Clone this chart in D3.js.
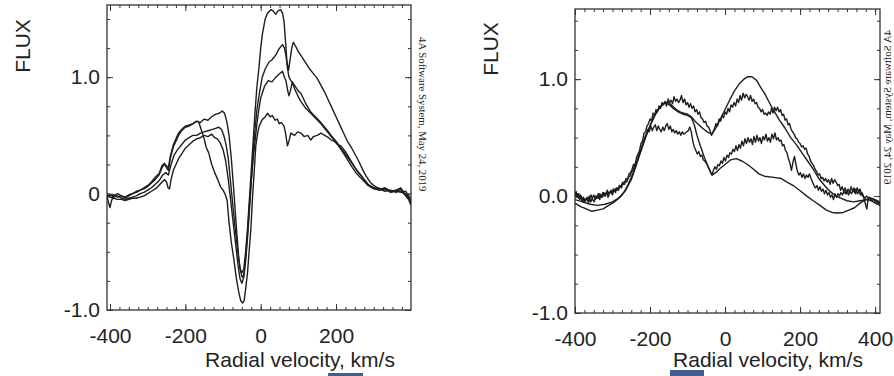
<!DOCTYPE html>
<html>
<head>
<meta charset="utf-8">
<script src="https://cdn.jsdelivr.net/npm/d3@7"></script>
<style>
  body { margin: 0; background: #fff; }
  svg { display: block; }
  text { font-family: "Liberation Sans", Arial, Helvetica, sans-serif; fill: #222; }
</style>
</head>
<body>
<div id="chart"></div>
<script>
// ---- data (velocity km/s, flux) ----
// left panel
const leftA = [[-408,-0.02],[-403,-0.09],[-400,-0.12],[-396,-0.06],[-390,-0.02],[-380,0.0],[-370,-0.02],[-360,-0.03],[-350,-0.01],[-340,0.0],[-330,0.02],[-320,0.03],[-310,0.05],[-300,0.07],[-290,0.1],[-280,0.14],[-270,0.17],[-262,0.24],[-255,0.26],[-250,0.22],[-245,0.2],[-240,0.3],[-232,0.4],[-225,0.45],[-218,0.5],[-210,0.54],[-200,0.57],[-190,0.58],[-180,0.6],[-170,0.62],[-160,0.61],[-150,0.64],[-140,0.63],[-130,0.66],[-120,0.68],[-110,0.69],[-102,0.71],[-96,0.69],[-90,0.62],[-84,0.5],[-78,0.3],[-72,0.05],[-67,-0.18],[-62,-0.4],[-58,-0.56],[-54,-0.66],[-49,-0.72],[-45,-0.7],[-40,-0.55],[-35,-0.35],[-30,-0.1],[-25,0.12],[-20,0.3],[-15,0.45],[-10,0.6],[-5,0.72],[0,0.82],[10,0.92],[20,0.97],[30,0.96],[40,1.0],[50,1.03],[58,1.05],[63,1.0],[67,0.97],[72,0.88],[75,0.84],[80,0.9],[84,0.96],[90,0.9],[100,0.83],[107,0.79],[120,0.73],[133,0.69],[145,0.65],[160,0.6],[175,0.54],[187,0.49],[200,0.44],[213,0.38],[225,0.32],[240,0.24],[255,0.17],[270,0.12],[285,0.07],[300,0.04],[315,0.03],[330,0.04],[345,0.02],[360,0.03],[372,0.05],[380,0.01],[390,-0.02],[399,-0.08]];
const leftB = [[-408,-0.03],[-400,-0.01],[-390,-0.03],[-380,-0.02],[-370,-0.04],[-360,-0.05],[-350,-0.04],[-340,-0.03],[-330,-0.02],[-320,0.0],[-310,0.01],[-300,0.03],[-290,0.05],[-280,0.08],[-270,0.11],[-260,0.16],[-252,0.18],[-245,0.16],[-238,0.25],[-230,0.33],[-220,0.38],[-210,0.42],[-200,0.46],[-190,0.48],[-180,0.5],[-170,0.5],[-160,0.52],[-150,0.53],[-140,0.54],[-130,0.55],[-120,0.56],[-111,0.57],[-104,0.55],[-98,0.5],[-92,0.42],[-86,0.3],[-80,0.1],[-74,-0.1],[-67,-0.32],[-60,-0.52],[-55,-0.64],[-50,-0.68],[-45,-0.65],[-40,-0.5],[-35,-0.3],[-30,-0.05],[-25,0.2],[-20,0.45],[-15,0.7],[-10,0.92],[-4,1.1],[0,1.25],[5,1.38],[12,1.5],[18,1.55],[27,1.58],[33,1.57],[40,1.54],[46,1.57],[53,1.58],[58,1.55],[62,1.48],[66,1.3],[70,1.12],[74,1.06],[78,1.15],[83,1.26],[87,1.3],[92,1.27],[100,1.22],[110,1.17],[120,1.12],[130,1.07],[140,1.03],[150,0.99],[160,0.93],[170,0.87],[180,0.8],[190,0.73],[200,0.66],[210,0.59],[220,0.52],[230,0.45],[240,0.4],[250,0.34],[260,0.28],[270,0.21],[280,0.15],[290,0.1],[300,0.07],[310,0.05],[320,0.04],[330,0.05],[340,0.03],[350,0.02],[360,0.03],[370,0.02],[380,0.0],[390,-0.03],[399,-0.1]];
const leftC = [[-408,-0.01],[-400,-0.03],[-390,-0.04],[-380,-0.05],[-370,-0.05],[-360,-0.06],[-350,-0.05],[-340,-0.04],[-330,-0.04],[-320,-0.03],[-310,-0.02],[-300,0.0],[-290,0.02],[-280,0.04],[-270,0.07],[-262,0.1],[-255,0.12],[-250,0.1],[-246,0.05],[-242,0.04],[-238,0.12],[-232,0.2],[-225,0.25],[-218,0.3],[-210,0.34],[-200,0.39],[-190,0.42],[-180,0.45],[-170,0.47],[-160,0.48],[-150,0.5],[-140,0.49],[-130,0.51],[-122,0.48],[-115,0.47],[-108,0.44],[-100,0.38],[-93,0.28],[-86,0.12],[-80,-0.05],[-73,-0.25],[-67,-0.42],[-60,-0.62],[-55,-0.73],[-50,-0.77],[-45,-0.72],[-40,-0.58],[-35,-0.38],[-30,-0.15],[-25,0.1],[-20,0.35],[-15,0.55],[-10,0.72],[-4,0.85],[4,1.0],[12,1.07],[22,1.13],[30,1.15],[40,1.19],[48,1.24],[53,1.26],[58,1.28],[63,1.25],[67,1.19],[71,1.08],[75,1.0],[80,0.97],[90,0.93],[100,0.88],[107,0.86],[120,0.77],[133,0.7],[145,0.66],[160,0.61],[175,0.55],[187,0.5],[200,0.45],[213,0.39],[225,0.34],[240,0.27],[255,0.2],[270,0.14],[285,0.08],[300,0.05],[315,0.04],[330,0.02],[345,0.03],[360,0.01],[370,0.04],[380,0.0],[390,-0.04],[399,-0.06]];
const leftD = [[-408,-0.03],[-400,-0.02],[-390,-0.01],[-380,-0.03],[-370,-0.02],[-360,-0.04],[-350,-0.02],[-340,0.0],[-330,0.01],[-320,0.03],[-310,0.04],[-300,0.06],[-290,0.09],[-280,0.12],[-270,0.16],[-262,0.22],[-256,0.25],[-250,0.24],[-245,0.22],[-240,0.32],[-232,0.42],[-225,0.47],[-218,0.52],[-210,0.55],[-200,0.58],[-190,0.59],[-180,0.6],[-172,0.62],[-165,0.62],[-158,0.55],[-150,0.47],[-145,0.4],[-138,0.35],[-130,0.25],[-122,0.18],[-114,0.12],[-107,0.06],[-100,0.03],[-95,0.0],[-89,-0.06],[-84,-0.25],[-78,-0.42],[-71,-0.57],[-65,-0.72],[-58,-0.85],[-53,-0.92],[-48,-0.94],[-44,-0.92],[-40,-0.82],[-35,-0.68],[-31,-0.51],[-26,-0.3],[-22,-0.05],[-17,0.2],[-13,0.41],[-8,0.52],[-4,0.58],[4,0.635],[12,0.66],[18,0.69],[25,0.66],[31,0.67],[38,0.63],[44,0.64],[49,0.6],[55,0.61],[62,0.58],[66,0.52],[71,0.41],[75,0.45],[80,0.52],[90,0.5],[98,0.53],[107,0.52],[115,0.49],[125,0.5],[133,0.46],[140,0.49],[150,0.5],[160,0.52],[170,0.5],[180,0.48],[187,0.46],[195,0.45],[205,0.42],[213,0.41],[225,0.36],[240,0.28],[255,0.2],[270,0.14],[284,0.077],[300,0.05],[315,0.03],[330,0.04],[345,0.01],[360,0.02],[373,0.01],[385,0.02],[395,-0.03],[399,-0.05]];

// right panel
const rightA = [[-400,-0.03],[-380,-0.05],[-360,-0.07],[-340,-0.08],[-320,-0.07],[-300,-0.05],[-285,-0.02],[-270,0.03],[-258,0.1],[-245,0.2],[-232,0.32],[-220,0.43],[-208,0.54],[-196,0.63],[-182,0.72],[-170,0.77],[-160,0.8],[-150,0.8],[-140,0.77],[-130,0.74],[-120,0.72],[-110,0.71],[-100,0.7],[-90,0.68],[-80,0.64],[-70,0.61],[-60,0.58],[-48,0.55],[-35,0.53],[-25,0.58],[-12,0.66],[0,0.74],[12,0.82],[25,0.9],[38,0.96],[50,1.0],[60,1.02],[72,1.02],[84,0.99],[95,0.93],[105,0.88],[118,0.8],[130,0.73],[145,0.65],[160,0.58],[175,0.5],[190,0.44],[205,0.37],[220,0.3],[235,0.23],[250,0.15],[265,0.09],[280,0.04],[295,0.0],[310,-0.02],[325,-0.04],[342,-0.05],[360,-0.04],[378,-0.03],[390,-0.04],[400,-0.06],[413,-0.08]];
const rightB = [[-400,-0.06],[-385,-0.09],[-370,-0.11],[-355,-0.13],[-340,-0.12],[-325,-0.11],[-310,-0.08],[-295,-0.05],[-280,-0.01],[-265,0.05],[-250,0.14],[-238,0.25],[-225,0.38],[-212,0.5],[-200,0.6],[-188,0.69],[-176,0.75],[-165,0.79],[-158,0.8],[-148,0.78],[-138,0.75],[-125,0.72],[-112,0.7],[-100,0.69],[-90,0.67],[-82,0.61],[-75,0.52],[-66,0.43],[-55,0.33],[-45,0.25],[-35,0.18],[-25,0.2],[-12,0.24],[0,0.27],[15,0.31],[30,0.32],[45,0.3],[60,0.27],[76,0.23],[90,0.19],[105,0.17],[130,0.16],[150,0.15],[165,0.12],[182,0.09],[200,0.045],[218,0.0],[235,-0.04],[253,-0.08],[270,-0.12],[285,-0.14],[300,-0.145],[315,-0.14],[330,-0.12],[345,-0.1],[360,-0.06],[375,-0.03],[387,-0.015],[400,-0.03],[413,-0.05]];
const rightC = [[-400,0.01],[-397,0.04],[-394,-0.01],[-390,0.02],[-387,-0.03],[-383,0.0],[-379,-0.05],[-376,-0.02],[-372,-0.04],[-368,-0.01],[-364,-0.06],[-361,-0.03],[-357,0.01],[-353,-0.03],[-349,-0.05],[-346,0.0],[-342,-0.02],[-338,0.02],[-334,-0.03],[-331,0.01],[-327,-0.01],[-323,0.03],[-319,0.0],[-315,0.04],[-312,-0.01],[-308,0.02],[-304,0.05],[-300,0.01],[-296,0.06],[-292,0.03],[-288,0.07],[-284,0.05],[-280,0.09],[-276,0.07],[-272,0.12],[-268,0.1],[-264,0.15],[-260,0.14],[-256,0.19],[-252,0.2],[-248,0.23],[-244,0.27],[-240,0.26],[-236,0.33],[-232,0.36],[-228,0.39],[-224,0.45],[-220,0.47],[-216,0.54],[-212,0.55],[-208,0.6],[-204,0.62],[-200,0.66],[-196,0.64],[-192,0.71],[-188,0.69],[-184,0.74],[-180,0.72],[-176,0.77],[-172,0.75],[-168,0.8],[-164,0.78],[-160,0.81],[-156,0.77],[-152,0.83],[-148,0.8],[-144,0.82],[-140,0.79],[-136,0.85],[-132,0.81],[-128,0.83],[-124,0.8],[-120,0.82],[-116,0.86],[-112,0.8],[-108,0.83],[-104,0.78],[-100,0.8],[-96,0.76],[-92,0.79],[-88,0.75],[-84,0.77],[-80,0.72],[-76,0.74],[-72,0.7],[-68,0.72],[-64,0.67],[-60,0.66],[-56,0.63],[-52,0.64],[-48,0.6],[-44,0.59],[-40,0.56],[-36,0.52],[-32,0.55],[-28,0.58],[-24,0.62],[-20,0.6],[-16,0.66],[-12,0.64],[-8,0.69],[-4,0.67],[0,0.72],[4,0.7],[8,0.75],[12,0.72],[16,0.78],[20,0.76],[24,0.8],[28,0.77],[32,0.83],[36,0.8],[40,0.86],[44,0.82],[48,0.88],[52,0.84],[56,0.87],[60,0.85],[64,0.82],[68,0.86],[72,0.81],[76,0.83],[80,0.79],[84,0.8],[88,0.76],[92,0.75],[96,0.72],[100,0.74],[104,0.7],[108,0.71],[112,0.69],[116,0.72],[120,0.7],[124,0.75],[128,0.71],[132,0.76],[136,0.73],[140,0.76],[144,0.72],[148,0.74],[152,0.69],[156,0.7],[160,0.65],[164,0.66],[168,0.61],[172,0.62],[176,0.57],[180,0.55],[184,0.53],[188,0.5],[192,0.49],[196,0.46],[200,0.45],[204,0.42],[208,0.43],[212,0.4],[216,0.41],[220,0.36],[224,0.34],[228,0.3],[232,0.28],[236,0.26],[240,0.23],[244,0.21],[248,0.18],[252,0.19],[256,0.15],[260,0.16],[264,0.13],[268,0.15],[272,0.12],[276,0.14],[280,0.1],[284,0.15],[288,0.11],[292,0.14],[296,0.12],[300,0.09],[304,0.1],[308,0.05],[312,0.08],[316,0.04],[320,0.07],[324,0.02],[328,0.06],[332,0.03],[336,0.08],[340,0.04],[344,0.07],[348,0.02],[352,0.07],[356,0.04],[360,0.06],[364,0.01],[368,0.0],[372,-0.04],[375,-0.08],[378,-0.11],[381,-0.03],[385,-0.01],[390,-0.04],[396,-0.03],[402,-0.05],[408,-0.06],[413,-0.08]];
const rightD = [[-400,0.03],[-397,-0.01],[-393,0.02],[-390,-0.02],[-386,0.01],[-382,-0.04],[-378,-0.01],[-374,-0.05],[-370,-0.02],[-366,-0.04],[-362,0.0],[-358,-0.05],[-354,-0.02],[-350,0.01],[-346,-0.03],[-342,0.0],[-338,-0.02],[-334,0.02],[-330,-0.01],[-326,0.03],[-322,0.0],[-318,0.02],[-314,0.05],[-310,0.02],[-306,0.04],[-302,0.02],[-298,0.06],[-294,0.04],[-290,0.07],[-286,0.05],[-282,0.09],[-278,0.08],[-274,0.11],[-270,0.1],[-266,0.13],[-262,0.12],[-258,0.16],[-254,0.17],[-250,0.2],[-246,0.22],[-242,0.25],[-238,0.29],[-234,0.3],[-230,0.35],[-226,0.38],[-222,0.42],[-218,0.46],[-214,0.5],[-210,0.53],[-206,0.57],[-202,0.55],[-198,0.6],[-194,0.56],[-190,0.59],[-186,0.61],[-182,0.56],[-178,0.6],[-174,0.57],[-170,0.55],[-166,0.59],[-162,0.56],[-158,0.6],[-154,0.62],[-150,0.57],[-146,0.6],[-142,0.55],[-138,0.57],[-134,0.54],[-130,0.56],[-126,0.53],[-122,0.55],[-118,0.52],[-114,0.55],[-110,0.53],[-106,0.54],[-102,0.55],[-98,0.56],[-94,0.59],[-90,0.55],[-86,0.47],[-82,0.42],[-78,0.39],[-74,0.36],[-70,0.38],[-66,0.34],[-62,0.35],[-58,0.31],[-54,0.3],[-50,0.28],[-46,0.26],[-42,0.23],[-38,0.2],[-35,0.18],[-31,0.22],[-27,0.25],[-23,0.23],[-19,0.27],[-15,0.26],[-11,0.3],[-7,0.28],[-3,0.33],[1,0.3],[5,0.35],[9,0.33],[13,0.37],[17,0.36],[21,0.4],[25,0.38],[29,0.43],[33,0.39],[37,0.44],[41,0.41],[45,0.47],[49,0.43],[53,0.49],[57,0.45],[61,0.5],[65,0.46],[69,0.49],[73,0.44],[77,0.51],[81,0.46],[85,0.52],[89,0.47],[93,0.5],[97,0.45],[101,0.51],[105,0.48],[109,0.53],[113,0.47],[117,0.5],[121,0.46],[125,0.53],[129,0.49],[133,0.54],[137,0.48],[141,0.5],[145,0.47],[149,0.48],[153,0.43],[157,0.44],[161,0.39],[165,0.37],[169,0.32],[173,0.28],[177,0.22],[181,0.29],[185,0.34],[189,0.27],[193,0.21],[197,0.18],[201,0.2],[205,0.16],[209,0.19],[213,0.15],[217,0.18],[221,0.16],[225,0.19],[229,0.15],[233,0.12],[237,0.09],[241,0.07],[245,0.09],[249,0.05],[253,0.08],[257,0.04],[261,0.06],[265,0.02],[269,0.05],[273,0.01],[277,0.03],[281,-0.01],[285,0.01],[289,-0.03],[293,0.02],[297,-0.01],[301,0.02],[305,0.0],[309,0.03],[313,0.01],[317,0.04],[321,0.02],[325,0.05],[329,0.01],[333,0.04],[337,0.02],[341,0.05],[345,0.03],[349,0.06],[353,0.02],[357,0.04],[361,0.01],[365,0.03],[369,0.0],[373,-0.02],[377,0.0],[381,-0.01],[387,-0.03],[393,-0.02],[400,-0.04],[406,-0.05],[413,-0.06]];

// tick labels
const xTickValues = [-400, -200, 0, 200, 400];
const xTickLabels = ["-400", "-200", "0", "200", "400"];
const yTickValues = [-1, 0, 1];
const leftYLabels = ["-1.0", "0", "1.0"];
const rightYLabels = ["-1.0", "0.0", "1.0"];
const xTitle = "Radial velocity, km/s";
const yTitle = "FLUX";
const stamp = "4A Software System, May 24, 2019";

const W = 894, H = 376;
const svg = d3.select("#chart").append("svg")
  .attr("width", W).attr("height", H)
  .style("background-color", "#fff");

function panel(opt) {
  const x = d3.scaleLinear().domain(opt.xDom).range([opt.left, opt.right]);
  const y = d3.scaleLinear().domain(opt.yDom).range([opt.bottom, opt.top]);
  const g = svg.append("g");
  const ih = opt.bottom - opt.top, iw = opt.right - opt.left;

  const xMinor = d3.range(-400, 401, 25).filter(v => v >= opt.xDom[0] && v <= opt.xDom[1]);
  const yMinor = d3.range(-1, 1.6, 0.25);
  const xMaj = xTickValues.filter(v => v >= opt.xDom[0] && v <= opt.xDom[1]);

  // minor ticks on all four sides, pointing in
  g.append("g").attr("transform", `translate(0,${opt.bottom})`)
    .call(d3.axisBottom(x).tickValues(xMinor).tickSize(-3).tickFormat(""));
  g.append("g").attr("transform", `translate(0,${opt.top})`)
    .call(d3.axisTop(x).tickValues(xMinor).tickSize(-3).tickFormat(""));
  g.append("g").attr("transform", `translate(${opt.left},0)`)
    .call(d3.axisLeft(y).tickValues(yMinor).tickSize(-3).tickFormat(""));
  g.append("g").attr("transform", `translate(${opt.right},0)`)
    .call(d3.axisRight(y).tickValues(yMinor).tickSize(-3).tickFormat(""));

  // major ticks
  g.append("g").attr("class", "lab").attr("transform", `translate(0,${opt.bottom})`)
    .call(d3.axisBottom(x).tickValues(xMaj).tickSize(-6).tickPadding(18)
      .tickFormat(d => xTickLabels[xTickValues.indexOf(d)]));
  g.append("g").attr("transform", `translate(0,${opt.top})`)
    .call(d3.axisTop(x).tickValues(xMaj).tickSize(-6).tickFormat(""));
  g.append("g").attr("class", "lab").attr("transform", `translate(${opt.left},0)`)
    .call(d3.axisLeft(y).tickValues(yTickValues).tickSize(-6).tickPadding(7)
      .tickFormat(d => opt.yLabels[yTickValues.indexOf(d)]));
  g.append("g").attr("transform", `translate(${opt.right},0)`)
    .call(d3.axisRight(y).tickValues(yTickValues).tickSize(-6).tickFormat(""));

  g.selectAll(".domain").remove();
  g.selectAll(".tick line").attr("stroke", "#333").attr("stroke-width", 1);
  g.selectAll(".lab text")
    .style("font-family", '"Liberation Sans", Arial, sans-serif')
    .style("font-size", "21px").attr("fill", "#222");

  // frame
  g.append("rect")
    .attr("x", opt.left).attr("y", opt.top)
    .attr("width", iw).attr("height", ih)
    .attr("fill", "none").attr("stroke", "#333").attr("stroke-width", 1.3);

  // curves
  const line = d3.line().x(d => x(d[0])).y(d => y(d[1]));
  const clipId = "clip" + opt.id;
  g.append("clipPath").attr("id", clipId).append("rect")
    .attr("x", opt.left).attr("y", opt.top).attr("width", iw).attr("height", ih);
  g.append("g").attr("clip-path", `url(#${clipId})`)
    .selectAll("path").data(opt.series).enter()
    .append("path")
    .attr("d", line)
    .attr("fill", "none")
    .attr("stroke", "#1e1e1e")
    .attr("stroke-width", 1.4)
    .attr("stroke-linejoin", "round");

  // titles
  svg.append("text")
    .attr("transform", `translate(${opt.flux[0]},${opt.flux[1]}) rotate(-90)`)
    .attr("text-anchor", "middle")
    .style("font-size", "21px")
    .text(yTitle);
  svg.append("text")
    .attr("x", opt.xt[0]).attr("y", opt.xt[1])
    .attr("text-anchor", "middle")
    .style("font-size", "21px")
    .text(xTitle);
}

panel({ id: 1, left: 107, right: 411, top: 5, bottom: 310,
  xDom: [-408, 399], yDom: [-1, 1.62], yLabels: leftYLabels,
  series: [leftA, leftB, leftC, leftD], flux: [30, 46], xt: [300, 367] });
panel({ id: 2, left: 575, right: 880, top: 9, bottom: 313,
  xDom: [-400, 413], yDom: [-1, 1.6], yLabels: rightYLabels,
  series: [rightA, rightB, rightC, rightD], flux: [498, 49], xt: [768, 367] });

// date stamps on the side
svg.append("text")
  .attr("transform", "translate(419,37) rotate(90)")
  .style("font-family", '"Liberation Serif", "Times New Roman", serif')
  .style("font-size", "10.8px").attr("fill", "#444")
  .text(stamp);
svg.append("text")
  .attr("transform", "translate(891,30) rotate(90) scale(1,-1)")
  .style("font-family", '"Liberation Serif", "Times New Roman", serif')
  .style("font-size", "10.8px").attr("fill", "#444")
  .text(stamp);

// small blue marks under the axis titles
svg.append("rect").attr("x", 328).attr("y", 373).attr("width", 35).attr("height", 3).attr("fill", "#3f5f8f");
svg.append("rect").attr("x", 670).attr("y", 370).attr("width", 34).attr("height", 6).attr("fill", "#3f5f8f");
</script>
</body>
</html>
